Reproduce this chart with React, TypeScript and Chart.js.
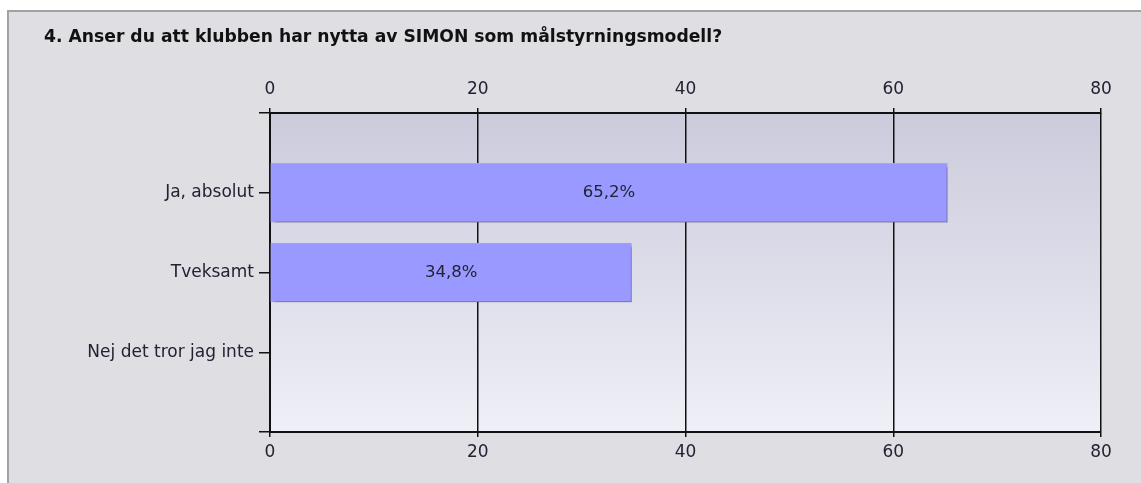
import React, { useEffect, useRef } from "react";
import { Chart, registerables } from "chart.js";

Chart.register(...registerables);

const TITLE = "4. Anser du att klubben har nytta av SIMON som målstyrningsmodell?";
const CATEGORIES = ["Ja, absolut", "Tveksamt", "Nej det tror jag inte"];
const PERCENTS = [65.2, 34.8, 0];
const BAR_LABELS = ["65,2%", "34,8%", ""];
const AXIS_MIN = 0;
const AXIS_MAX = 80;
const AXIS_STEP = 20;

const FONT_FAMILY = "'DejaVu Sans', sans-serif";
const W = 1141;
const H = 483;

export default function App() {
  const ref = useRef<HTMLCanvasElement | null>(null);

  useEffect(() => {
    if (!ref.current) return;
    const labels = ["", ...CATEGORIES, ""];
    const data = [null, ...PERCENTS, null];
    const barLabels = ["", ...BAR_LABELS, ""];

    const framePlugin = {
      id: "frame",
      beforeDraw(chart: any) {
        const { ctx, chartArea } = chart;
        ctx.save();
        ctx.fillStyle = "#ffffff";
        ctx.fillRect(0, 0, W, H);
        ctx.fillStyle = "#dfdee3";
        ctx.fillRect(7, 10, W - 7, H - 10);
        ctx.strokeStyle = "#a2a2a2";
        ctx.lineWidth = 2;
        ctx.beginPath();
        ctx.moveTo(8, H);
        ctx.lineTo(8, 11);
        ctx.lineTo(W, 11);
        ctx.stroke();
        // title
        ctx.fillStyle = "#111111";
        ctx.font = "bold 17.2px " + FONT_FAMILY;
        ctx.textBaseline = "middle";
        ctx.textAlign = "left";
        ctx.fillText(TITLE, 44, 38);
        // plot background gradient
        const g = ctx.createLinearGradient(0, chartArea.top, 0, chartArea.bottom);
        g.addColorStop(0, "#cbcbdc");
        g.addColorStop(1, "#efeff7");
        ctx.fillStyle = g;
        ctx.fillRect(chartArea.left, chartArea.top, chartArea.right - chartArea.left, chartArea.bottom - chartArea.top);
        ctx.restore();
      },
    };

    const shadowPlugin = {
      id: "barShadow",
      beforeDatasetsDraw(chart: any) {
        const ctx = chart.ctx;
        ctx.save();
        ctx.shadowColor = "rgba(0,0,0,0.3)";
        ctx.shadowBlur = 3;
        ctx.shadowOffsetX = 4;
        ctx.shadowOffsetY = 3;
      },
      afterDatasetsDraw(chart: any) {
        chart.ctx.restore();
        const ctx = chart.ctx;
        const meta = chart.getDatasetMeta(0);
        ctx.save();
        ctx.fillStyle = "#222233";
        ctx.font = "16.5px " + FONT_FAMILY;
        ctx.textAlign = "center";
        ctx.textBaseline = "middle";
        meta.data.forEach((el: any, i: number) => {
          const txt = barLabels[i];
          if (!txt) return;
          const cx = (el.x + el.base) / 2;
          ctx.fillText(txt, cx, el.y);
        });
        ctx.restore();
      },
    };

    const tickFont = { family: FONT_FAMILY, size: 17 };

    const chart = new Chart(ref.current, {
      type: "bar",
      data: {
        labels,
        datasets: [
          {
            data,
            xAxisID: "x",
            yAxisID: "y",
            backgroundColor: "#9999ff",
            borderColor: "#a4a4ff",
            borderWidth: 1,
            borderSkipped: false,
            barThickness: 59,
          },
        ],
      },
      options: {
        indexAxis: "y",
        animation: false,
        responsive: false,
        devicePixelRatio: 1,
        layout: { padding: { left: 0, right: 40, top: 0, bottom: 0 } },
        plugins: {
          legend: { display: false },
          title: { display: false },
          tooltip: { enabled: false },
        },
        scales: {
          x: {
            type: "linear",
            position: "bottom",
            min: AXIS_MIN,
            max: AXIS_MAX,
            ticks: { stepSize: AXIS_STEP, color: "#222233", font: tickFont, padding: 5 },
            grid: { color: "#111111", lineWidth: 1.5, tickLength: 5, drawOnChartArea: true },
            border: { display: true, color: "#111111", width: 2 },
            afterFit(scale: any) {
              scale.height = 51;
            },
          },
          x2: {
            type: "linear",
            position: "top",
            min: AXIS_MIN,
            max: AXIS_MAX,
            ticks: { stepSize: AXIS_STEP, color: "#222233", font: tickFont, padding: 8 },
            grid: { color: "#111111", lineWidth: 1.5, tickLength: 5, drawOnChartArea: false },
            border: { display: true, color: "#111111", width: 2 },
            afterFit(scale: any) {
              scale.height = 113;
            },
          },
          y: {
            type: "category",
            position: "left",
            offset: false,
            ticks: { color: "#222233", font: tickFont, padding: 5, autoSkip: false },
            grid: { color: "#111111", lineWidth: 1.5, tickLength: 11, drawOnChartArea: false, offset: false },
            border: { display: true, color: "#111111", width: 2 },
            afterFit(scale: any) {
              scale.width = 270;
            },
          },
        },
      },
      plugins: [framePlugin, shadowPlugin],
    } as any);

    return () => chart.destroy();
  }, []);

  return (
    <div style={{ position: "absolute", left: 0, top: 0, width: W, height: H }}>
      <canvas ref={ref} width={W} height={H} style={{ display: "block" }} />
    </div>
  );
}
